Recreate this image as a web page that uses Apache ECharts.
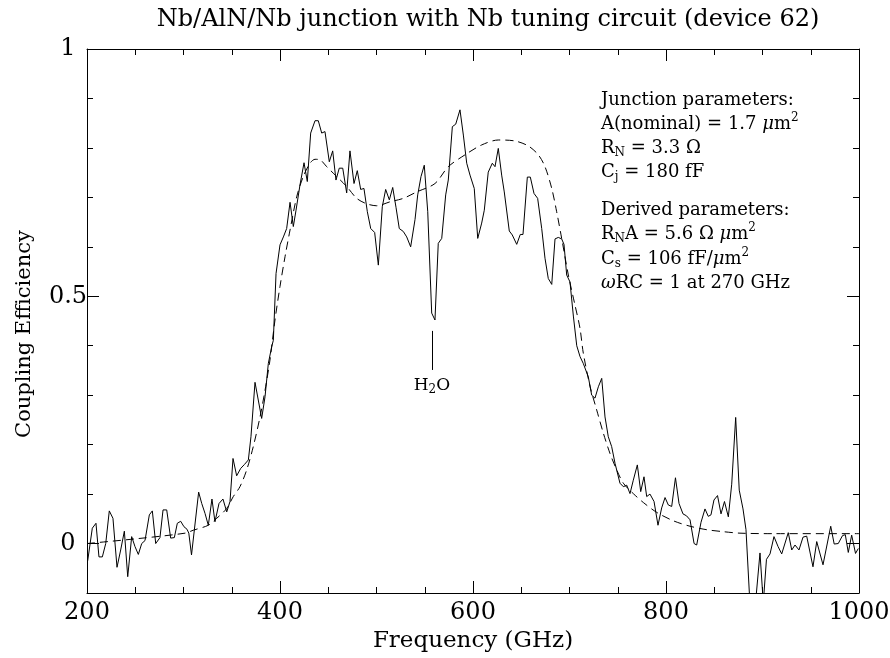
<!DOCTYPE html>
<html>
<head>
<meta charset="utf-8">
<script src="https://cdn.jsdelivr.net/npm/echarts@6/dist/echarts.min.js"></script>
<style>
html, body { margin: 0; background: #fff; }
#main { width: 890px; height: 658px; }
</style>
</head>
<body>
<div id="main"></div>
<script>
// measured coupling efficiency (solid)
var measFreq = [200.7, 205.5, 209.3, 212.4, 215.9, 219.4, 223.1, 226.9, 231.1, 234.9, 238.7, 242.2, 246.3, 249.7,
	253.2, 256.7, 260.1, 264.6, 267.7, 271.2, 275.6, 278.8, 282.6, 286.7, 290.5, 293.6, 297.1, 300.5, 303.6, 305.5,
	308.3, 315.7, 318.9, 322.3, 325.7, 329.5, 332.6, 336.8, 340.9, 344.8, 348.2, 351.3, 355.1, 359.3, 363.2, 367.2,
	369.9, 374.1, 381.0, 384.5, 387.9, 391.4, 393.1, 395.9, 400.0, 403.5, 406.9, 410.4, 413.8, 416.6, 420.7, 424.9,
	428.3, 431.8, 436.3, 439.7, 443.2, 446.6, 451.1, 454.6, 458.0, 461.4, 465.0, 469.1, 472.5, 476.7, 480.1, 483.6,
	487.0, 490.5, 494.0, 498.1, 501.9, 506.0, 509.5, 513.3, 516.8, 520.2, 523.6, 527.8, 531.3, 535.4, 539.9, 542.7,
	546.1, 549.5, 553.1, 557.2, 560.6, 564.0, 567.6, 571.7, 574.4, 578.6, 582.1, 586.5, 590.0, 593.5, 596.9, 601.3,
	604.9, 609.0, 611.7, 615.8, 620.0, 622.8, 626.2, 629.7, 632.4, 637.6, 640.7, 645.3, 649.0, 651.8, 656.3, 659.4,
	663.2, 667.0, 671.2, 674.6, 678.0, 681.6, 685.0, 688.4, 691.9, 694.3, 697.1, 700.5, 704.0, 707.5, 710.9, 714.3,
	719.5, 723.0, 726.4, 729.9, 733.4, 736.8, 740.2, 743.7, 747.2, 752.3, 755.8, 759.3, 762.7, 766.1, 770.3, 773.8,
	777.2, 780.0, 783.4, 787.6, 791.7, 795.5, 799.0, 802.4, 805.9, 809.8, 813.5, 817.6, 821.3, 824.9, 829.1, 831.8,
	836.3, 840.4, 843.8, 846.6, 849.7, 853.4, 857.0, 860.6, 864.6, 868.1, 872.2, 875.9, 879.8, 882.9, 889.1, 897.4,
	900.8, 904.1, 907.8, 911.9, 916.1, 919.9, 926.7, 930.3, 933.7, 937.8, 942.0, 945.8, 952.3, 956.2, 962.7, 970.7,
	974.3, 978.5, 982.9, 985.8, 988.9, 992.4, 996.4, 999.3];
var measEff = [-0.035, 0.031, 0.041, -0.027, -0.027, 0.0, 0.066, 0.051, -0.048, -0.013, 0.025, -0.067, 0.014, -0.006,
	-0.022, 0.0, 0.006, 0.058, 0.066, 0.0, 0.012, 0.068, 0.068, 0.011, 0.012, 0.041, 0.045, 0.034, 0.029, 0.021,
	-0.023, 0.104, 0.081, 0.061, 0.037, 0.090, 0.044, 0.081, 0.090, 0.064, 0.085, 0.172, 0.137, 0.152, 0.160, 0.169,
	0.216, 0.326, 0.253, 0.297, 0.364, 0.398, 0.411, 0.546, 0.604, 0.620, 0.637, 0.690, 0.641, 0.674, 0.725, 0.770,
	0.732, 0.830, 0.855, 0.855, 0.830, 0.833, 0.772, 0.794, 0.735, 0.759, 0.759, 0.709, 0.794, 0.728, 0.754, 0.716,
	0.718, 0.671, 0.637, 0.629, 0.563, 0.681, 0.716, 0.695, 0.720, 0.680, 0.637, 0.631, 0.620, 0.600, 0.655, 0.705,
	0.742, 0.765, 0.671, 0.466, 0.452, 0.607, 0.617, 0.705, 0.735, 0.843, 0.848, 0.877, 0.826, 0.769, 0.745, 0.718,
	0.617, 0.648, 0.674, 0.751, 0.769, 0.762, 0.799, 0.745, 0.711, 0.632, 0.624, 0.605, 0.625, 0.625, 0.741, 0.741,
	0.708, 0.698, 0.637, 0.577, 0.536, 0.524, 0.616, 0.619, 0.616, 0.605, 0.543, 0.529, 0.460, 0.400, 0.378, 0.364,
	0.337, 0.300, 0.294, 0.317, 0.334, 0.256, 0.216, 0.196, 0.162, 0.122, 0.115, 0.118, 0.101, 0.128, 0.159, 0.105,
	0.135, 0.095, 0.100, 0.085, 0.037, 0.072, 0.093, 0.078, 0.075, 0.133, 0.081, 0.060, 0.056, 0.048, 0.000, -0.003,
	0.043, 0.070, 0.055, 0.058, 0.088, 0.097, 0.060, 0.085, 0.054, 0.120, 0.255, 0.108, 0.070, 0.028, -0.200, -0.019,
	-0.120, -0.032, -0.021, 0.014, -0.006, -0.021, 0.022, -0.013, -0.003, -0.013, 0.013, 0.015, -0.047, 0.004, -0.043, 0.035,
	-0.001, 0.000, 0.016, 0.018, -0.018, 0.017, -0.020, -0.010];

// model curve (dashed)
var fitFreq = [200, 252.8, 301.6, 310.2, 325.7, 334.4, 344.8, 351.6, 358.5, 365.5, 372.3, 379.3, 384.5, 389.6, 394.8,
	400.0, 405.2, 410.4, 417.3, 424.1, 431.1, 436.3, 441.4, 448.4, 458.8, 469.1, 479.5, 489.8, 500.2, 514.0, 527.8,
	541.7, 560.6, 574.4, 591.7, 609.0, 626.2, 643.5, 657.3, 667.7, 674.6, 681.6, 686.7, 691.9, 698.8, 705.7, 710.9,
	714.3, 721.4, 728.2, 735.1, 742.0, 748.9, 755.8, 766.1, 776.5, 790.4, 807.6, 824.9, 842.2, 859.4, 876.7, 911.2, 1000];
var fitEff = [0.000, 0.010, 0.021, 0.027, 0.037, 0.051, 0.071, 0.095, 0.115, 0.149, 0.196, 0.256, 0.310, 0.371, 0.452,
	0.520, 0.580, 0.634, 0.701, 0.742, 0.769, 0.777, 0.776, 0.762, 0.742, 0.722, 0.698, 0.687, 0.683, 0.691, 0.698,
	0.711, 0.728, 0.762, 0.786, 0.806, 0.816, 0.814, 0.804, 0.786, 0.762, 0.718, 0.671, 0.617, 0.543, 0.482, 0.435,
	0.385, 0.317, 0.270, 0.223, 0.182, 0.149, 0.122, 0.101, 0.083, 0.063, 0.046, 0.035, 0.028, 0.024, 0.021, 0.020, 0.020];

// tick labels / positions on the efficiency axis
var yMajor = [0, 0.5, 1];
var yMinor = [0.1, 0.2, 0.3, 0.4, 0.6, 0.7, 0.8, 0.9];
// H2O absorption marker
var h2oFreq = 557.5;
var h2oTop = 0.43;
var h2oBottom = 0.351;

var F = 'DejaVu Serif';
var black = '#000';

var myChart = echarts.init(document.getElementById('main'))

function pairs(xs, ys) {
	return xs.map(function(x, i) { return [x, ys[i]] })
}

function xAx(pos, labels) {
	return {
		type: 'value',
		position: pos,
		min: 200,
		max: 1000,
		interval: 200,
		axisLine: { show: true, onZero: false, lineStyle: { color: black, width: 1 } },
		axisTick: { inside: true, length: 12, lineStyle: { color: black } },
		minorTick: { show: true, splitNumber: 4, length: 6, lineStyle: { color: black } },
		splitLine: { show: false },
		axisLabel: {
			show: labels, margin: 8, fontFamily: F, fontSize: 24, color: black,
			formatter: function(v) { return String(v) }
		},
		name: labels ? 'Frequency (GHz)' : '',
		nameLocation: 'middle',
		nameGap: 31,
		nameTextStyle: { fontFamily: F, fontSize: 23, color: black }
	}
}

function yAx(pos, major, labels) {
	return {
		type: 'value',
		position: pos,
		min: -0.1,
		max: 1,
		axisLine: { show: major, onZero: false, lineStyle: { color: black, width: 1 } },
		axisTick: {
			inside: true,
			length: major ? 12 : 6,
			customValues: major ? yMajor : yMinor,
			lineStyle: { color: black }
		},
		splitLine: { show: false },
		axisLabel: {
			show: labels,
			customValues: yMajor,
			align: 'center',
			margin: 19,
			fontFamily: F,
			fontSize: 24,
			color: black,
			formatter: function(v) { return String(Math.round(v * 10) / 10) }
		},
		name: labels ? 'Coupling Efficiency' : '',
		nameLocation: 'middle',
		nameGap: 52,
		nameTextStyle: { fontFamily: F, fontSize: 21, color: black, padding: [0, 26, 0, 0] }
	}
}

var rich = {
	t: { fontFamily: F, fontSize: 18, fill: black },
	it: { fontFamily: F, fontSize: 18, fontStyle: 'italic', fill: black },
	sub: { fontFamily: F, fontSize: 12, fill: black, padding: [9, 0, 0, 0] },
	sup: { fontFamily: F, fontSize: 12, fill: black, padding: [0, 0, 12, 0] }
}

var notes = [
	['{t|Junction parameters:}', 100],
	['{t|A(nominal) = 1.7 }{it|μ}{t|m}{sup|2}', 124],
	['{t|R}{sub|N}{t| = 3.3 Ω}', 148],
	['{t|C}{sub|j}{t| = 180 fF}', 172],
	['{t|Derived parameters:}', 210],
	['{t|R}{sub|N}{t|A = 5.6 Ω }{it|μ}{t|m}{sup|2}', 234],
	['{t|C}{sub|s}{t| = 106 fF/}{it|μ}{t|m}{sup|2}', 259],
	['{it|ω}{t|RC = 1 at 270 GHz}', 283]
]

var graphics = [{
	type: 'text',
	x: 488,
	y: 20,
	style: {
		text: 'Nb/AlN/Nb junction with Nb tuning circuit (device 62)',
		fontFamily: F,
		fontSize: 24,
		fill: black,
		align: 'center',
		verticalAlign: 'middle'
	}
}]
notes.forEach(function(n) {
	graphics.push({
		type: 'text',
		x: 601,
		y: n[1],
		style: { text: n[0], rich: rich, fontFamily: F, fontSize: 18, fill: black, verticalAlign: 'middle' }
	})
})

myChart.setOption({
	animation: false,
	backgroundColor: '#fff',
	grid: { left: 87, right: 31, top: 49, bottom: 65, outerBoundsMode: 'none', containLabel: false },
	xAxis: [xAx('bottom', true), xAx('top', false)],
	yAxis: [yAx('left', true, true), yAx('left', false, false), yAx('right', true, false), yAx('right', false, false)],
	graphic: graphics,
	series: [{
		name: 'measured',
		type: 'line',
		data: pairs(measFreq, measEff),
		symbol: 'none',
		clip: true,
		lineStyle: { color: black, width: 1 },
		markLine: {
			silent: true,
			symbol: ['none', 'none'],
			lineStyle: { color: black, width: 1, type: 'solid' },
			label: {
				show: true,
				position: 'end',
				distance: 5,
				formatter: '{a|H}{s|2}{a|O}',
				rich: {
					a: { fontFamily: F, fontSize: 17, color: black },
					s: { fontFamily: F, fontSize: 12, color: black, padding: [9, 0, 0, 0] }
				}
			},
			data: [[{ coord: [h2oFreq, h2oTop] }, { coord: [h2oFreq, h2oBottom] }]]
		}
	}, {
		name: 'model',
		type: 'line',
		data: pairs(fitFreq, fitEff),
		symbol: 'none',
		smooth: 0.3,
		clip: true,
		lineStyle: { color: black, width: 1, type: [8, 5] }
	}]
})
</script>
</body>
</html>
